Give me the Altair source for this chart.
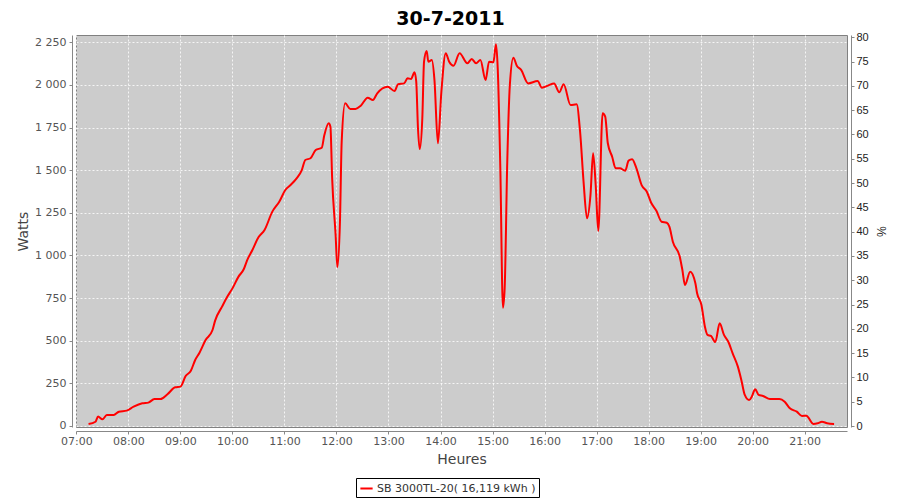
import altair as alt
import pandas as pd

# ---- data ----
times = [
    "07:14", "07:22", "07:25", "07:30", "07:35", "07:43", "07:49", "07:58",
    "08:06", "08:16", "08:23", "08:30", "08:37", "08:45", "08:54", "09:00",
    "09:06", "09:12", "09:17", "09:22", "09:29", "09:37", "09:40", "09:48",
    "09:54", "10:00", "10:07", "10:13", "10:17", "10:23", "10:30", "10:37",
    "10:46", "10:54", "11:01", "11:07", "11:14", "11:20", "11:24", "11:30",
    "11:36", "11:43", "11:46", "11:51", "11:53", "11:55", "11:59", "12:01",
    "12:04", "12:06", "12:10", "12:16", "12:22", "12:28", "12:36", "12:42",
    "12:47", "12:59", "13:07", "13:11", "13:18", "13:22", "13:26", "13:30",
    "13:32", "13:34", "13:36", "13:39", "13:41", "13:44", "13:46", "13:50",
    "13:53", "13:57", "14:01", "14:06", "14:10", "14:15", "14:22", "14:31",
    "14:36", "14:41", "14:46", "14:52", "14:56", "15:01", "15:04", "15:06",
    "15:09", "15:12", "15:14", "15:17", "15:20", "15:24", "15:28", "15:33",
    "15:41", "15:52", "15:57", "16:04", "16:11", "16:17", "16:22", "16:30",
    "16:37", "16:41", "16:45", "16:49", "16:53", "16:56", "16:59", "17:02",
    "17:07", "17:10", "17:13", "17:18", "17:22", "17:27", "17:33", "17:37",
    "17:41", "17:46", "17:52", "17:58", "18:03", "18:09", "18:15", "18:21",
    "18:24", "18:28", "18:36", "18:39", "18:42", "18:48", "18:54", "18:56",
    "19:01", "19:05", "19:08", "19:12", "19:17", "19:22", "19:27", "19:32",
    "19:37", "19:43", "19:47", "19:51", "19:56", "19:59", "20:03", "20:07",
    "20:12", "20:20", "20:31", "20:37", "20:43", "20:51", "20:57", "21:02",
    "21:10", "21:15", "21:20", "21:26", "21:34",
]
watts = [
    12, 25, 55, 39, 64, 64, 84, 90,
    113, 133, 137, 158, 158, 186, 227, 231,
    293, 324, 387, 430, 504, 563, 618, 700,
    758, 807, 876, 919, 973, 1032, 1107, 1149,
    1257, 1315, 1384, 1413, 1452, 1501, 1560, 1570,
    1618, 1632, 1706, 1775, 1755, 1452, 1120, 931,
    1198, 1667, 1892, 1859, 1859, 1878, 1925, 1912,
    1951, 1990, 1964, 2004, 2009, 2039, 2035, 2074,
    2019, 1746, 1624, 1804, 2136, 2199, 2136, 2146,
    2030, 1658, 1960, 2186, 2136, 2113, 2186, 2127,
    2152, 2127, 2146, 2029, 2136, 2133, 2238, 2097,
    1511, 694, 807, 1550, 2000, 2160, 2113, 2088,
    2009, 2023, 1984, 1996, 2009, 1957, 2004, 1882,
    1886, 1726, 1433, 1218, 1355, 1599, 1413, 1144,
    1834, 1814, 1658, 1579, 1511, 1511, 1497, 1556,
    1564, 1511, 1413, 1374, 1309, 1262, 1198, 1192,
    1169, 1081, 993, 915, 827, 905, 837, 778,
    710, 582, 534, 528, 492, 602, 534, 494,
    426, 348, 270, 182, 152, 172, 215, 182,
    176, 158, 158, 142, 104, 84, 59, 60,
    12, 16, 25, 16, 12,
]
hour_ticks = list(range(7, 22))
watt_ticks = [0, 250, 500, 750, 1000, 1250, 1500, 1750, 2000, 2250]
pct_ticks = [0, 5, 10, 15, 20, 25, 30, 35, 40, 45, 50, 55, 60, 65, 70, 75, 80]
pct_range = [0, 80]
series_name = "SB 3000TL-20( 16,119 kWh )"
chart_title = "30-7-2011"

hours = [int(t[:2]) + int(t[3:]) / 60 for t in times]
df = pd.DataFrame({"h": hours, "w": watts, "series": series_name})
pct_df = pd.DataFrame({"p": pct_range})

FONT = "DejaVu Sans"
LABEL = "#555555"
AXIS = "#888888"

line = alt.Chart(df).mark_line(strokeWidth=2, interpolate="monotone").encode(
    x=alt.X(
        "h:Q",
        scale=alt.Scale(domain=[6.992, 21.815], nice=False, zero=False),
        axis=alt.Axis(
            values=hour_ticks,
            labelExpr="(datum.value < 10 ? '0' : '') + datum.value + ':00'",
            title="Heures",
            offset=4,
            grid=True,
            labelPadding=1,
            titlePadding=6,
            labelFlush=False,
            labelOverlap=False,
        ),
    ),
    y=alt.Y(
        "w:Q",
        scale=alt.Scale(domain=[-5.9, 2292.8], nice=False, zero=False),
        axis=alt.Axis(
            values=watt_ticks,
            labelExpr="replace(format(datum.value, ','), ',', ' ')",
            title="Watts",
            offset=4,
            grid=True,
            labelPadding=3,
            titlePadding=4,
        ),
    ),
    color=alt.Color(
        "series:N",
        scale=alt.Scale(range=["#FF0000"]),
        legend=alt.Legend(
            title=None,
            orient="none",
            legendX=280,
            legendY=443,
            strokeColor="black",
            fillColor="white",
            padding=3,
            cornerRadius=0,
            symbolType="stroke",
            symbolStrokeWidth=2,
            symbolSize=150,
            labelFont=FONT,
            labelFontSize=11,
            labelColor="#333333",
            labelOffset=3,
        ),
    ),
)

right = alt.Chart(pct_df).mark_point(opacity=0).encode(
    y=alt.Y(
        "p:Q",
        scale=alt.Scale(domain=[-0.2, 80.47], nice=False, zero=False),
        axis=alt.Axis(
            orient="right",
            values=pct_ticks,
            title="%",
            offset=4,
            grid=False,
            labelFont="Liberation Sans",
            labelColor="#222222",
            labelFontSize=11,
            labelPadding=2,
            titleFont="Liberation Sans",
            titleFontSize=12,
            titleColor="#222222",
            titlePadding=5,
        ),
    ),
)

chart = (
    alt.layer(line, right)
    .resolve_scale(y="independent")
    .properties(
        width=771,
        height=392,
        autosize=alt.AutoSizeParams(type="none"),
        padding={"left": 68, "top": 27, "right": 45, "bottom": 71},
        title=alt.TitleParams(
            chart_title,
            font=FONT,
            fontSize=19,
            fontWeight="bold",
            color="black",
            anchor="middle",
            offset=2,
            dx=-11,
        ),
    )
    .configure_view(fill="#CCCCCC", stroke="#808080", strokeWidth=1)
    .configure_axis(
        domainColor=AXIS,
        tickColor=AXIS,
        tickSize=3,
        gridColor="#FFFFFF",
        gridDash=[2, 2],
        gridWidth=0.8,
        labelFont=FONT,
        labelFontSize=11,
        labelColor=LABEL,
        titleFont=FONT,
        titleFontSize=14,
        titleFontWeight="normal",
        titleColor="#444444",
    )
)

chart.save("out.html", embed_options={"renderer": "svg", "actions": False})
